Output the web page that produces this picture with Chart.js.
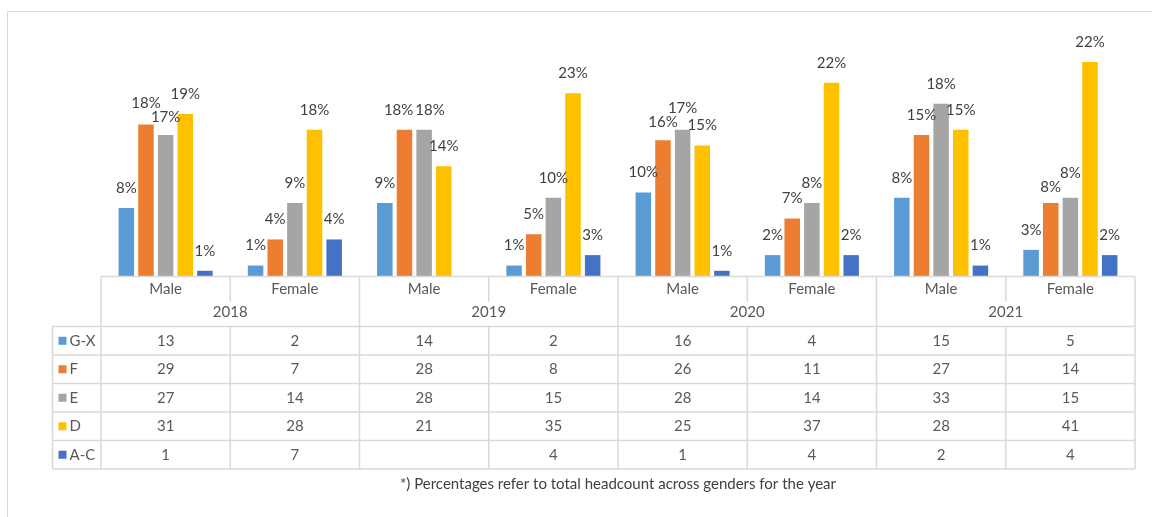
<!DOCTYPE html>
<html>
<head>
<meta charset="utf-8">
<title>Headcount by grade and gender</title>
<script src="https://cdn.jsdelivr.net/npm/chart.js@4/dist/chart.umd.min.js"></script>
<style>
  html, body { margin: 0; padding: 0; background: #ffffff; }
  #wrap { width: 1152px; height: 517px; position: relative; }
</style>
</head>
<body>
<div id="wrap"><canvas id="gradeChart"></canvas></div>
<script>
// Headcount per grade band, for each year split by gender
const years = ['2018', '2019', '2020', '2021'];
const genders = ['Male', 'Female'];
const seriesNames = ['G-X', 'F', 'E', 'D', 'A-C'];
const seriesColors = ['#5B9BD5', '#ED7D31', '#A5A5A5', '#FFC000', '#4472C4'];

const gx = [13, 2, 14, 2, 16, 4, 15, 5];
const f = [29, 7, 28, 8, 26, 11, 27, 14];
const e = [27, 14, 28, 15, 28, 14, 33, 15];
const d = [31, 28, 21, 35, 25, 37, 28, 41];
const ac = [1, 7, null, 4, 1, 4, 2, 4];

const footnote = '*) Percentages refer to total headcount across genders for the year';

const FONT = 'Lato, "Open Sans", sans-serif';
const seriesValues = [gx, f, e, d, ac];

const labels = [];
years.forEach(y => genders.forEach(g => labels.push(g + ' ' + y)));

// total headcount of each year, both genders together
function yearTotal(yearIdx) {
    let sum = 0;
    seriesValues.forEach(arr => {
        genders.forEach((g, gi) => { sum += arr[yearIdx * genders.length + gi] || 0; });
    });
    return sum;
}

// Percent labels above each bar, nudged apart where they collide
const percentLabels = {
    id: 'percentLabels',
    afterDatasetsDraw(chart) {
        const ctx = chart.ctx;
        ctx.save();
        ctx.font = '15px ' + FONT;
        ctx.fillStyle = '#404040';
        ctx.textAlign = 'center';
        ctx.textBaseline = 'middle';
        const h = 14;

        labels.forEach((lab, i) => {
            const total = yearTotal(Math.floor(i / genders.length));
            const items = [];
            chart.data.datasets.forEach((ds, di) => {
                const v = ds.data[i];
                if (v === null || v === undefined) return;
                const bar = chart.getDatasetMeta(di).data[i];
                const text = Math.round(v / total * 100) + '%';
                items.push({ text, x: bar.x, y: bar.y - 20, w: ctx.measureText(text).width, top: bar.y });
            });

            for (let pass = 0; pass < 8; pass++) {
                for (let a = 0; a < items.length; a++) {
                    for (let b = a + 1; b < items.length; b++) {
                        const p = items[a], q = items[b];
                        const ox = (p.w + q.w) / 2 - Math.abs(p.x - q.x);
                        const oy = h - Math.abs(p.y - q.y);
                        if (ox <= 1 || oy <= 1) continue;
                        if (Math.abs(p.y - q.y) < 4) {
                            // same height: spread sideways
                            p.x -= ox / 2 + 1;
                            q.x += ox / 2 + 1;
                        } else {
                            const up = p.y < q.y ? p : q;
                            const down = up === p ? q : p;
                            const room = Math.max(0, (down.top - h / 2 - 2) - down.y);
                            const move = Math.min(room, oy / 2);
                            down.y += move;
                            up.y -= oy - move;
                        }
                    }
                }
            }
            items.forEach(it => ctx.fillText(it.text, it.x, it.y));
        });
        ctx.restore();
    }
};

// Data table under the plot, plus the outer frame and footnote
const dataTable = {
    id: 'dataTable',
    afterDraw(chart) {
        const ctx = chart.ctx;
        const area = chart.chartArea;
        const n = labels.length;
        const colW = (area.right - area.left) / n;
        const top = area.bottom + 0.5;
        const genderRowBottom = top + 25;
        const headBottom = top + 50;
        const rowH = 28.5;
        const tableBottom = headBottom + rowH * seriesNames.length;
        const keyLeft = 52.5;
        const lineColor = '#D9D9D9';

        ctx.save();
        ctx.strokeStyle = lineColor;
        ctx.lineWidth = 1.5;

        function line(x1, y1, x2, y2) {
            ctx.beginPath();
            ctx.moveTo(x1, y1);
            ctx.lineTo(x2, y2);
            ctx.stroke();
        }

        // outer chart frame
        ctx.lineWidth = 1;
        line(7.5, 11.5, chart.width, 11.5);
        line(7.5, 11.5, 7.5, chart.height);
        ctx.lineWidth = 1.5;

        // axis line / table top
        line(area.left, top, area.right, top);
        // header separator and data row lines
        for (let r = 0; r <= seriesNames.length; r++) {
            const y = headBottom + r * rowH;
            line(keyLeft, y, area.right, y);
        }
        line(keyLeft, headBottom, keyLeft, tableBottom);

        // column separators
        for (let i = 0; i <= n; i++) {
            const x = area.left + i * colW;
            if (i % genders.length === 0) {
                line(x, top, x, tableBottom);
            } else {
                line(x, top, x, genderRowBottom);
                line(x, headBottom, x, tableBottom);
            }
        }

        ctx.font = '15px ' + FONT;
        ctx.fillStyle = '#595959';
        ctx.textAlign = 'center';
        ctx.textBaseline = 'middle';

        // gender and year headers
        labels.forEach((lab, i) => {
            const x = chart.scales.x.getPixelForValue(i);
            ctx.fillText(genders[i % genders.length], x, top + 13);
        });
        years.forEach((y, yi) => {
            const x = area.left + (yi + 0.5) * colW * genders.length;
            ctx.fillText(y, x, top + 36);
        });

        // values per series row
        seriesNames.forEach((name, si) => {
            const cy = headBottom + (si + 0.5) * rowH;
            seriesValues[si].forEach((v, i) => {
                if (v === null || v === undefined) return;
                ctx.fillText(String(v), chart.scales.x.getPixelForValue(i), cy);
            });
            // legend key
            ctx.fillStyle = seriesColors[si];
            ctx.fillRect(keyLeft + 6, cy - 4, 8, 8);
            ctx.fillStyle = '#595959';
            ctx.textAlign = 'left';
            ctx.fillText(name, keyLeft + 17, cy);
            ctx.textAlign = 'center';
        });

        // footnote
        ctx.fillStyle = '#404040';
        ctx.fillText(footnote, (area.left + area.right) / 2, tableBottom + 15);
        ctx.restore();
    }
};

const ctx = document.getElementById('gradeChart');
new Chart(ctx.getContext('2d'), {
    type: 'bar',
    data: {
        labels: labels,
        datasets: seriesNames.map((name, si) => ({
            label: name,
            data: seriesValues[si],
            backgroundColor: seriesColors[si],
            borderWidth: 0,
            categoryPercentage: 0.76,
            barPercentage: 0.79
        }))
    },
    options: {
        responsive: true,
        maintainAspectRatio: false,
        animation: false,
        layout: {
            padding: { left: 101, right: 17, top: 41, bottom: 241 }
        },
        plugins: {
            legend: { display: false },
            tooltip: { enabled: false }
        },
        scales: {
            x: { display: false },
            y: { display: false, min: 0, max: 45 }
        }
    },
    plugins: [percentLabels, dataTable]
});
</script>
</body>
</html>
